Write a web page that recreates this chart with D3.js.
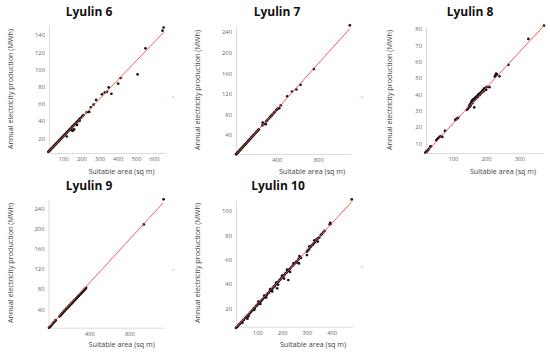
<!DOCTYPE html>
<html>
  <head>
    <meta charset="utf-8" />
    <title>Lyulin scatter plots</title>
    <script src="https://d3js.org/d3.v7.min.js"></script>
    <style>
      body { margin: 0; background: #fff; }
      text { font-family: "Open Sans", "Noto Sans", sans-serif; }
    </style>
  </head>
  <body>
    <div id="chart"></div>
    <script>
      // panel titles
      var districts = ["Lyulin 6", "Lyulin 7", "Lyulin 8", "Lyulin 9", "Lyulin 10"];

      // [suitable area (sq m), annual production (MWh)]
      var lyulin6 = [
        [18, 4.0], [22, 4.9], [25, 5.5], [28, 6.3], [31, 6.8], [34, 7.6], [37, 8.2], [40, 8.9],
        [43, 9.4], [46, 10.3], [50, 11.1], [53, 11.6], [56, 12.5], [60, 13.2], [63, 14.1], [66, 14.5],
        [70, 15.6], [74, 16.3], [78, 17.4], [82, 18.0], [86, 19.2], [90, 19.8], [94, 20.9], [98, 21.6],
        [102, 22.7], [106, 23.3], [110, 24.5], [114, 25.1], [118, 26.3], [122, 26.8], [126, 28.0],
        [130, 28.7], [134, 29.8], [138, 30.5], [142, 31.6], [146, 32.2], [150, 33.4], [155, 34.3],
        [160, 35.6], [165, 36.4], [170, 37.8], [175, 38.6], [180, 40.0], [186, 41.2], [192, 42.7],
        [198, 43.8], [205, 45.6], [212, 47.0], [120, 22.0], [146, 29.4], [152, 28.6], [160, 30.2],
        [176, 35.4], [190, 40.2], [230, 50.2], [243, 50.6], [252, 56.0], [267, 59.0], [281, 64.5],
        [313, 71.0], [328, 73.0], [341, 74.0], [350, 79.0], [365, 71.7], [402, 83.4], [415, 90.0],
        [509, 94.3], [552, 124.5], [646, 145.0], [652, 148.7]
      ];
      var lyulin7 = [
        [10, 2.4], [14, 3.1], [18, 4.0], [22, 4.8], [26, 5.9], [30, 6.6], [35, 7.8], [40, 8.8],
        [45, 10.1], [50, 11.0], [55, 12.3], [60, 13.2], [66, 14.7], [72, 15.8], [78, 17.4], [84, 18.5],
        [90, 20.1], [96, 21.2], [102, 22.8], [108, 23.8], [115, 25.6], [122, 26.9], [129, 28.8],
        [136, 30.0], [143, 31.9], [150, 33.1], [158, 35.2], [166, 36.6], [174, 38.8], [182, 40.2],
        [190, 42.3], [198, 43.8], [206, 45.8], [214, 47.3], [222, 49.4], [230, 50.8], [262, 58.5],
        [266, 64.0], [280, 61.5], [295, 61.0], [300, 66.5], [312, 69.2], [325, 72.0], [336, 74.8],
        [345, 76.5], [352, 78.2], [360, 79.6], [372, 82.5], [380, 84.3], [395, 87.8], [405, 90.0],
        [412, 91.2], [425, 92.0], [440, 97.5], [502, 115.0], [548, 124.4], [590, 128.3],
        [630, 137.4], [758, 168.0], [1104, 253.0]
      ];
      var lyulin8 = [
        [17, 4.3], [20, 4.9], [22, 5.0], [25, 5.8], [28, 6.6], [32, 7.9], [34, 8.1], [50, 11.8],
        [53, 12.6], [56, 13.2], [60, 13.9], [63, 14.3], [68, 13.9], [76, 17.6], [107, 24.3],
        [110, 24.8], [113, 25.3], [116, 25.6], [142, 30.5], [145, 31.2], [148, 32.0], [150, 32.6],
        [150, 33.5], [152, 34.0], [153, 33.0], [155, 34.8], [156, 35.6], [158, 34.5], [158, 36.3],
        [160, 35.8], [161, 37.0], [163, 36.3], [164, 32.0], [165, 37.6], [166, 36.8], [168, 38.1],
        [170, 37.5], [171, 38.6], [173, 39.0], [175, 38.4], [176, 39.8], [178, 40.1], [180, 39.5],
        [182, 40.6], [184, 41.2], [186, 40.8], [188, 42.0], [190, 42.6], [192, 41.8], [194, 43.5],
        [196, 43.0], [198, 44.0], [200, 42.8], [203, 44.6], [210, 44.4], [226, 50.9], [228, 51.6],
        [230, 52.8], [232, 52.2], [240, 51.1], [267, 58.1], [327, 74.0], [374, 82.2]
      ];
      var lyulin9 = [
        [-5, 3.5], [3, 5.0], [10, 6.3], [18, 8.0], [30, 11.0], [40, 13.5], [50, 15.2], [57, 17.0],
        [62, 18.5], [100, 26.0], [108, 27.5], [115, 29.3], [122, 30.8], [128, 32.0], [135, 33.8],
        [140, 34.5], [146, 36.3], [152, 37.0], [158, 38.9], [164, 39.6], [170, 41.2], [176, 42.5],
        [182, 43.4], [188, 45.2], [194, 46.0], [200, 47.7], [206, 48.5], [212, 50.1], [218, 51.2],
        [224, 52.0], [230, 54.0], [236, 54.8], [242, 56.3], [248, 57.6], [254, 58.4], [260, 60.1],
        [266, 61.2], [272, 62.3], [278, 64.0], [284, 64.8], [290, 66.5], [296, 67.4], [302, 68.6],
        [308, 70.3], [314, 71.0], [320, 72.8], [326, 73.6], [332, 75.0], [338, 76.5], [344, 77.2],
        [350, 79.0], [356, 79.8], [362, 81.5], [367, 82.6], [945, 208.0], [1143, 257.8]
      ];
      var lyulin10 = [
        [14, 4.0], [18, 4.6], [22, 5.5], [26, 6.8], [30, 7.2], [34, 8.4], [38, 8.9], [42, 10.2],
        [46, 10.6], [50, 12.0], [54, 12.4], [58, 13.6], [60, 11.5], [62, 14.5], [66, 15.0], [70, 16.3],
        [74, 16.9], [78, 18.2], [82, 18.6], [86, 20.0], [90, 20.4], [94, 21.8], [98, 22.3],
        [102, 23.4], [106, 24.2], [110, 25.0], [114, 25.9], [118, 26.8], [122, 27.6], [126, 28.5],
        [130, 29.4], [134, 30.4], [138, 31.0], [142, 32.3], [146, 32.8], [150, 34.1], [154, 34.7],
        [158, 35.9], [162, 36.5], [166, 37.8], [170, 38.2], [174, 39.6], [178, 40.1], [180, 36.5],
        [182, 41.5], [186, 42.0], [190, 43.4], [194, 43.9], [198, 45.2], [202, 45.8], [206, 46.9],
        [210, 47.6], [214, 48.8], [218, 49.3], [222, 50.6], [225, 43.3], [226, 51.3], [230, 52.2],
        [236, 53.6], [242, 55.0], [248, 56.2], [254, 57.5], [258, 58.6], [262, 57.8], [266, 60.2],
        [272, 62.0], [276, 61.5], [300, 66.6], [300, 63.8], [304, 67.8], [308, 68.6], [312, 70.0],
        [316, 70.8], [320, 71.9], [324, 72.6], [328, 73.5], [332, 74.4], [336, 75.6], [340, 77.0],
        [345, 77.6], [350, 78.4], [356, 80.3], [360, 81.0], [366, 82.5], [372, 83.8], [392, 89.0],
        [394, 90.3], [396, 89.5], [481, 109.6],
        [40, 8.2], [64, 13.4], [88, 18.8], [112, 23.6], [136, 29.0], [160, 33.9], [184, 39.4],
        [208, 44.5], [232, 49.9], [104, 25.6], [128, 30.5], [152, 35.8], [176, 41.2], [200, 47.0],
        [220, 51.8], [246, 57.3], [268, 56.9], [270, 63.0], [310, 70.9], [330, 76.0], [344, 74.9]
      ];

      // fitted lines, [start, end]
      var fit6 = [[17, 3.5], [652, 143.0]];
      var fit7 = [[10, 2.0], [1104, 246.5]];
      var fit8 = [[17, 3.8], [374, 82.2]];
      var fit9 = [[-8, 4.4], [1140, 251.0]];
      var fit10 = [[14, 4.3], [481, 107.7]];

      // tick values
      var xTicks = [[100, 200, 300, 400, 500, 600], [400, 800], [100, 200, 300], [400, 800], [100, 200, 300, 400]];
      var yTicks = [[20, 40, 60, 80, 100, 120, 140], [40, 80, 120, 160, 200, 240], [10, 20, 30, 40, 50, 60, 70, 80],
                    [40, 80, 120, 160, 200, 240], [20, 40, 60, 80, 100]];

      var points = [lyulin6, lyulin7, lyulin8, lyulin9, lyulin10];
      var fits = [fit6, fit7, fit8, fit9, fit10];

      // layout of each panel (page px) and axis domains
      var panels = [
        { box: [49, 25, 166, 153], xd: [22, 665], yd: [2.8, 151.6], title: [89, 12], xt: [121.5, 171], yt: [10, 89], mark: [173, 97] },
        { box: [236, 26, 351, 154], xd: [9.6, 1115], yd: [3, 251.7], title: [277, 12], xt: [312, 171], yt: [197, 90], mark: [362, 97] },
        { box: [426, 27, 544, 153], xd: [19, 374], yd: [4.05, 81.3], title: [470, 12], xt: [503, 171], yt: [389, 90], mark: null },
        { box: [48.5, 200, 164, 327.7], xd: [-10, 1147], yd: [3.6, 256.4], title: [89, 186], xt: [121.7, 344], yt: [10, 263], mark: [173, 270] },
        { box: [236, 200, 353, 326.7], xd: [14, 486], yd: [4.9, 109.1], title: [278, 186], xt: [313, 344], yt: [197, 263], mark: [362, 267] }
      ];

      var svg = d3.select("#chart").append("svg").attr("width", 550).attr("height", 353);

      panels.forEach(function (p, i) {
        var x = d3.scaleLinear().domain(p.xd).range([p.box[0], p.box[2]]);
        var y = d3.scaleLinear().domain(p.yd).range([p.box[3], p.box[1]]);
        var g = svg.append("g");

        // axes
        var xa = g.append("g")
          .attr("transform", "translate(0," + p.box[3] + ")")
          .call(d3.axisBottom(x).tickValues(xTicks[i]).tickSize(0).tickPadding(4));
        var ya = g.append("g")
          .attr("transform", "translate(" + p.box[0] + ",0)")
          .call(d3.axisLeft(y).tickValues(yTicks[i]).tickSize(0).tickPadding(4));
        [xa, ya].forEach(function (a) {
          a.select(".domain").attr("stroke", "#dcdcdc").attr("stroke-width", 1);
          a.selectAll("text").attr("fill", "#666").style("font-size", "5.8px");
        });

        // points
        g.append("g")
          .selectAll("circle")
          .data(points[i])
          .enter()
          .append("circle")
          .attr("cx", function (d) { return x(d[0]); })
          .attr("cy", function (d) { return y(d[1]); })
          .attr("r", 1.35)
          .attr("fill", "#151515");

        // fit line
        g.append("path")
          .datum(fits[i])
          .attr("d", d3.line().x(function (d) { return x(d[0]); }).y(function (d) { return y(d[1]); }))
          .attr("stroke", "#f24b4b")
          .attr("stroke-width", 0.9)
          .attr("fill", "none");

        // titles
        g.append("text")
          .attr("x", p.title[0]).attr("y", p.title[1])
          .attr("text-anchor", "middle").attr("dy", "0.35em")
          .style("font-size", "12px").style("font-weight", "bold")
          .attr("fill", "#111")
          .text(districts[i]);

        g.append("text")
          .attr("x", p.xt[0]).attr("y", p.xt[1])
          .attr("text-anchor", "middle").attr("dy", "0.35em")
          .style("font-size", "7.2px").attr("fill", "#444")
          .text("Suitable area (sq m)");

        g.append("text")
          .attr("transform", "translate(" + p.yt[0] + "," + p.yt[1] + ") rotate(-90)")
          .attr("text-anchor", "middle").attr("dy", "0.35em")
          .style("font-size", "7.2px").attr("fill", "#444")
          .text("Annual electricity production (MWh)");

        // small red legend mark
        if (p.mark) {
          g.append("line")
            .attr("x1", p.mark[0] - 1.5).attr("x2", p.mark[0] + 1.5)
            .attr("y1", p.mark[1]).attr("y2", p.mark[1])
            .attr("stroke", "#f7a0a0").attr("stroke-width", 0.8);
        }
      });
    </script>
  </body>
</html>
